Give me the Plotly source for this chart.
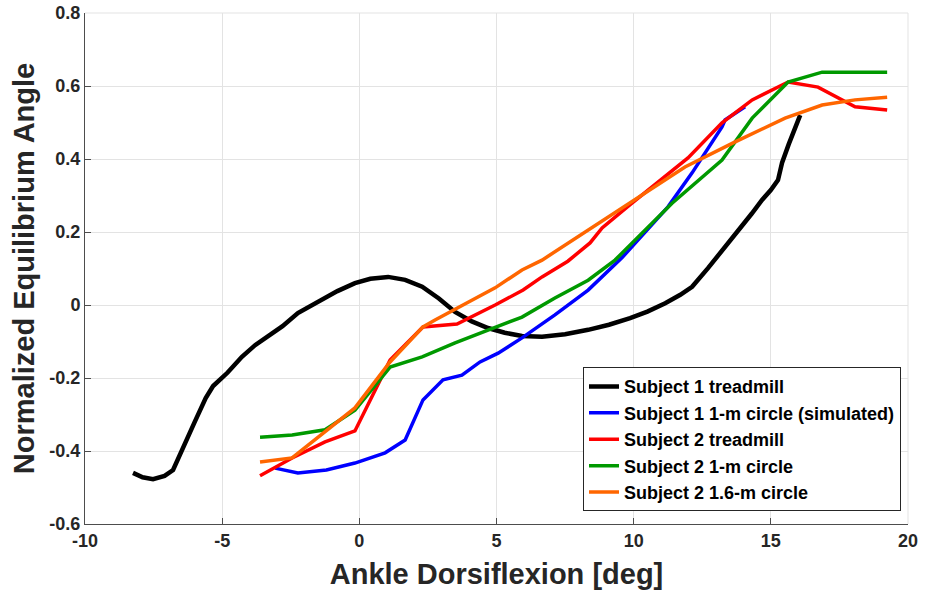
import plotly.graph_objects as go

# Subject 1 treadmill
s1t_x = [-8.25, -7.9, -7.52, -7.1, -6.79, -6.4, -6.0, -5.6, -5.33, -4.8, -4.28, -3.8, -3.3, -2.8,
         -2.24, -1.5, -0.8, -0.16, 0.4, 1.05, 1.67, 2.29, 2.9, 3.49, 4.1, 4.69, 5.3, 5.93, 6.66,
         7.5, 8.34, 9.1, 9.87, 10.5, 11.15, 11.7, 12.13, 12.71, 13.3, 13.95, 14.3, 14.68, 15.0,
         15.26, 15.41, 15.65, 15.88, 16.07]
s1t_y = [-0.46, -0.472, -0.477, -0.468, -0.452, -0.39, -0.32, -0.255, -0.222, -0.185, -0.142, -0.11,
         -0.085, -0.058, -0.022, 0.01, 0.038, 0.06, 0.072, 0.077, 0.069, 0.05, 0.018, -0.019, -0.045,
         -0.063, -0.076, -0.085, -0.087, -0.08, -0.068, -0.054, -0.036, -0.018, 0.005, 0.028, 0.05,
         0.101, 0.155, 0.214, 0.25, 0.288, 0.315, 0.342, 0.39, 0.44, 0.488, 0.52]

# Subject 1 1-m circle (simulated)
s1c_x = [-3.07, -2.24, -1.2, -0.16, 0.94, 1.67, 2.32, 3.05, 3.74, 4.40, 5.06, 5.93, 7.13, 8.34,
         9.58, 11.25, 12.13, 13.22, 13.33, 14.06]
s1c_y = [-0.447, -0.46, -0.452, -0.433, -0.405, -0.37, -0.26, -0.205, -0.192, -0.156, -0.132,
         -0.09, -0.027, 0.041, 0.13, 0.269, 0.362, 0.488, 0.507, 0.543]

# Subject 2 treadmill
s2t_x = [-3.62, -2.45, -1.25, -0.16, 1.12, 2.32, 3.56, 4.95, 5.97, 6.66, 7.6, 8.41, 8.85, 9.87,
         11.98, 13.22, 14.32, 15.63, 16.72, 18.07, 19.24]
s2t_y = [-0.468, -0.419, -0.375, -0.345, -0.151, -0.06, -0.052, 0.0, 0.041, 0.077, 0.12, 0.17,
         0.211, 0.275, 0.403, 0.499, 0.562, 0.611, 0.597, 0.543, 0.534]

# Subject 2 1-m circle
s2c_x = [-3.62, -2.45, -1.25, -0.16, 1.12, 2.29, 3.49, 4.95, 5.93, 7.13, 8.34, 9.32, 9.69, 11.4,
         13.22, 14.32, 15.63, 16.87, 19.24]
s2c_y = [-0.362, -0.356, -0.342, -0.288, -0.17, -0.142, -0.104, -0.06, -0.033, 0.019, 0.068,
         0.123, 0.151, 0.279, 0.397, 0.512, 0.611, 0.638, 0.638]

# Subject 2 1.6-m circle
s2l_x = [-3.62, -2.45, -0.16, 1.12, 2.32, 2.76, 4.95, 5.93, 6.66, 8.34, 9.87, 11.87, 13.7, 15.52,
         16.87, 18.07, 19.24]
s2l_y = [-0.43, -0.419, -0.282, -0.156, -0.06, -0.041, 0.047, 0.096, 0.123, 0.205, 0.28, 0.378,
         0.447, 0.512, 0.548, 0.562, 0.569]

series_names = ["Subject 1 treadmill", "Subject 1 1-m circle (simulated)", "Subject 2 treadmill",
                "Subject 2 1-m circle", "Subject 2 1.6-m circle"]
series_x = [s1t_x, s1c_x, s2t_x, s2c_x, s2l_x]
series_y = [s1t_y, s1c_y, s2t_y, s2c_y, s2l_y]
colors = ["#000000", "#0000ff", "#ff0000", "#009900", "#ff6600"]
widths = [4.5, 3.5, 3.5, 3.5, 3.5]

x_ticks = [-10, -5, 0, 5, 10, 15, 20]
y_ticks = [-0.6, -0.4, -0.2, 0, 0.2, 0.4, 0.6, 0.8]
y_tick_text = ["-0.6", "-0.4", "-0.2", "0", "0.2", "0.4", "0.6", "0.8"]

fig = go.Figure()
for name, xs, ys, c, w in zip(series_names, series_x, series_y, colors, widths):
    fig.add_trace(go.Scatter(x=xs, y=ys, mode="lines", name=name,
                             line=dict(color=c, width=w)))

font_family = "Liberation Sans, Arial, sans-serif"
fig.update_layout(
    width=925, height=592,
    margin=dict(l=85, r=17, t=13, b=68, autoexpand=False),
    paper_bgcolor="white", plot_bgcolor="white",
    font=dict(family=font_family, color="#262626"),
    showlegend=True,
    legend=dict(
        x=0.9915, y=0.025, xanchor="right", yanchor="bottom",
        bgcolor="white", bordercolor="#262626", borderwidth=1,
        font=dict(family=font_family, size=18, color="#000000", weight="bold"),
        itemwidth=30, tracegroupgap=0,
    ),
    xaxis=dict(
        range=[-10, 20], tickvals=x_ticks, ticktext=[str(v) for v in x_ticks],
        showgrid=True, gridcolor="#e3e3e3", gridwidth=1,
        showline=True, linecolor="#4d4d4d", linewidth=1, mirror=False,
        ticks="inside", ticklen=6, tickcolor="#4d4d4d",
        zeroline=False, automargin=False,
        tickfont=dict(size=18, weight="bold", color="#262626"),
        title=dict(text="Ankle Dorsiflexion [deg]", standoff=14,
                   font=dict(size=29, weight="bold", color="#262626")),
    ),
    yaxis=dict(
        range=[-0.6, 0.8], tickvals=y_ticks, ticktext=y_tick_text,
        showgrid=True, gridcolor="#e3e3e3", gridwidth=1,
        showline=True, linecolor="#4d4d4d", linewidth=1, mirror=False,
        ticks="inside", ticklen=6, tickcolor="#4d4d4d",
        zeroline=False, automargin=False,
        tickfont=dict(size=18, weight="bold", color="#262626"),
        title=dict(text="Normalized Equilibrium Angle", standoff=6,
                   font=dict(size=29, weight="bold", color="#262626")),
    ),
)
fig.add_shape(type="line", xref="paper", yref="paper", x0=0, x1=1, y0=1, y1=1,
              line=dict(color="#e3e3e3", width=1))
fig.add_shape(type="line", xref="paper", yref="paper", x0=1, x1=1, y0=0, y1=1,
              line=dict(color="#e3e3e3", width=1))

fig.write_html("out.html")
